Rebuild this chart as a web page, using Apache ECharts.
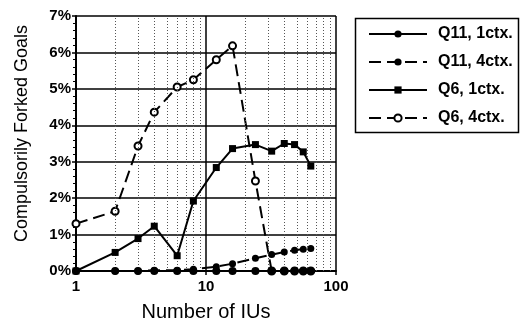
<!DOCTYPE html>
<html><head><meta charset="utf-8">
<script src="https://cdn.jsdelivr.net/npm/echarts@6/dist/echarts.min.js"></script>
<style>html,body{margin:0;padding:0;background:#fff}#c{width:520px;height:322px}</style>
</head><body><div id="c"></div>
<script>
var xValues = [1, 2, 3, 4, 6, 8, 12, 16, 24, 32, 40, 48, 56, 64];
var q11ctx1 = [0, 0, 0, 0, 0, 0, 0, 0, 0, 0, 0, 0, 0, 0];
var q11ctx4 = [0, 0, 0, 0.02, 0.02, 0.05, 0.12, 0.2, 0.35, 0.45, 0.52, 0.57, 0.6, 0.62];
var q6ctx1 = [0, 0.51, 0.89, 1.23, 0.42, 1.92, 2.84, 3.36, 3.47, 3.29, 3.5, 3.47, 3.27, 2.88];
var q6ctx4 = [1.3, 1.64, 3.43, 4.36, 5.05, 5.25, 5.8, 6.18, 2.47, 0, 0, 0, 0, 0];
var seriesNames = ['Q11, 1ctx.', 'Q11, 4ctx.', 'Q6, 1ctx.', 'Q6, 4ctx.'];
var minorGridX = [2, 3, 4, 5, 6, 7, 8, 9, 20, 30, 40, 50, 60, 70, 80, 90];

function pairs(ys) { return xValues.map(function (x, i) { return [x, ys[i]]; }); }
var FONT = 'Liberation Sans, Arial, Helvetica, sans-serif';
var chart = echarts.init(document.getElementById('c'), null, {renderer: 'canvas'});
var dash = [12, 6];
chart.setOption({
  backgroundColor: '#fff',
  animation: false,
  textStyle: {fontFamily: FONT, color: '#000'},
  grid: {left: 76, right: 184, top: 16, bottom: 51, containLabel: false, outerBoundsMode: 'none'},
  legend: {
    orient: 'vertical', left: 368, top: 25, padding: 0,
    itemWidth: 58, itemHeight: 9, itemGap: 10,
    textStyle: {fontFamily: FONT, fontSize: 16, fontWeight: 'bold', lineHeight: 18, color: '#000', padding: [0, 0, 0, 6]},
    data: seriesNames
  },
  graphic: [{
    type: 'rect', silent: true,
    shape: {x: 355.5, y: 18.5, width: 163, height: 114},
    style: {fill: 'none', stroke: '#000', lineWidth: 1.5}
  }],
  xAxis: {
    type: 'log', logBase: 10, min: 1, max: 100,
    name: 'Number of IUs', nameLocation: 'middle', nameGap: 31,
    nameTextStyle: {fontSize: 20, fontFamily: FONT, color: '#000'},
    axisLine: {lineStyle: {color: '#000', width: 2}},
    axisTick: {show: true, length: 4, lineStyle: {color: '#000', width: 1.5}},
    axisLabel: {fontSize: 15, fontWeight: 'bold', color: '#000', fontFamily: FONT, margin: 8},
    splitLine: {show: true, lineStyle: {color: '#000', width: 1.5}}
  },
  yAxis: {
    type: 'value', min: 0, max: 7, interval: 1,
    name: 'Compulsorily Forked Goals', nameLocation: 'middle', nameGap: 45,
    nameTextStyle: {fontSize: 18, fontFamily: FONT, color: '#000', padding: [0, 0, 0, 20]},
    axisLine: {show: true, lineStyle: {color: '#000', width: 2}},
    axisTick: {show: true, length: 4, lineStyle: {color: '#000', width: 1.5}},
    minorTick: {show: true, splitNumber: 5, length: 3, lineStyle: {color: '#000', width: 1}},
    axisLabel: {fontSize: 15, fontWeight: 'bold', color: '#000', fontFamily: FONT, margin: 5, formatter: '{value}%'},
    splitLine: {show: true, lineStyle: {color: '#000', width: 1.5}}
  },
  series: [
    {
      name: seriesNames[0], type: 'line', data: pairs(q11ctx1),
      symbol: 'circle', symbolSize: 8,
      lineStyle: {color: '#000', width: 2, type: 'solid'},
      itemStyle: {color: '#000'},
      markLine: {
        silent: true, symbol: ['none', 'none'], label: {show: false},
        lineStyle: {color: '#555', width: 1, type: [1, 2]},
        data: minorGridX.map(function (v) { return {xAxis: v}; })
      },
      z: 7
    },
    {
      name: seriesNames[1], type: 'line', data: pairs(q11ctx4),
      symbol: 'circle', symbolSize: 7,
      lineStyle: {color: '#000', width: 2, type: dash},
      itemStyle: {color: '#000'}, z: 6
    },
    {
      name: seriesNames[2], type: 'line', data: pairs(q6ctx1),
      symbol: 'rect', symbolSize: 7,
      lineStyle: {color: '#000', width: 2, type: 'solid'},
      itemStyle: {color: '#000'}, z: 5
    },
    {
      name: seriesNames[3], type: 'line', data: pairs(q6ctx4),
      symbol: 'emptyCircle', symbolSize: 7,
      lineStyle: {color: '#000', width: 2, type: dash},
      itemStyle: {color: '#000', borderColor: '#000', borderWidth: 2.5}, z: 4
    }
  ]
});
</script></body></html>
